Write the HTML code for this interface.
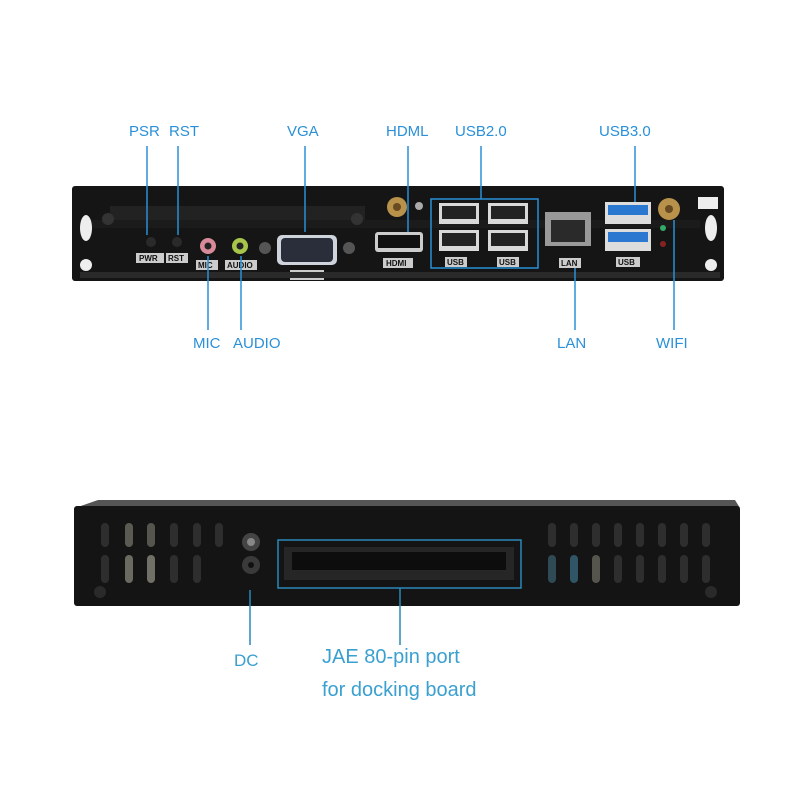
<!DOCTYPE html>
<html><head><meta charset="utf-8"><style>
html,body{margin:0;padding:0;background:#fff;width:800px;height:800px;overflow:hidden}
svg{display:block}
.l{font-family:"Liberation Sans",sans-serif;font-size:15px;fill:#2a90d8}
.b{font-family:"Liberation Sans",sans-serif;font-size:20px;fill:#3aa0d0}
.t{font-family:"Liberation Sans",sans-serif;font-size:8px;font-weight:bold;fill:#ddd}
</style></head><body>
<svg width="800" height="800" viewBox="0 0 800 800">
<!-- top device -->
<rect x="72" y="186" width="652" height="95" rx="3" fill="#151515"/>
<rect x="110" y="206" width="255" height="22" fill="#222"/>
<rect x="80" y="220" width="620" height="8" fill="#1b1b1b"/>
<ellipse cx="86" cy="228" rx="6" ry="13" fill="#eee"/>
<circle cx="86" cy="265" r="6" fill="#eee"/>
<ellipse cx="711" cy="228" rx="6" ry="13" fill="#eee"/>
<circle cx="711" cy="265" r="6" fill="#eee"/>
<rect x="698" y="197" width="20" height="12" fill="#eee"/>
<g fill="#333"><circle cx="108" cy="219" r="6"/><circle cx="357" cy="219" r="6"/></g>
<circle cx="151" cy="242" r="5" fill="#2a2a2a"/><circle cx="177" cy="242" r="5" fill="#2a2a2a"/>
<rect x="136" y="253" width="28" height="10" fill="#ccc"/><text x="139" y="261" class="t" style="fill:#111">PWR</text>
<rect x="166" y="253" width="22" height="10" fill="#ccc"/><text x="168" y="261" class="t" style="fill:#111">RST</text>
<circle cx="208" cy="246" r="8" fill="#d88a9a"/><circle cx="208" cy="246" r="3.5" fill="#222"/>
<circle cx="240" cy="246" r="8" fill="#a6c54a"/><circle cx="240" cy="246" r="3.5" fill="#222"/>
<rect x="196" y="260" width="22" height="10" fill="#ccc"/><text x="198" y="268" class="t" style="fill:#111">MIC</text>
<rect x="225" y="260" width="32" height="10" fill="#ccc"/><text x="227" y="268" class="t" style="fill:#111">AUDIO</text>
<circle cx="265" cy="248" r="6" fill="#555"/><circle cx="349" cy="248" r="6" fill="#555"/>
<rect x="277" y="235" width="60" height="30" rx="5" fill="#cfd3dc"/><rect x="281" y="238" width="52" height="24" rx="4" fill="#2a2e3a"/>
<rect x="290" y="270" width="34" height="10" fill="#ccc"/><text x="297" y="278" class="t" style="fill:#111">VGA</text>
<circle cx="397" cy="207" r="10" fill="#b8914a"/><circle cx="397" cy="207" r="4" fill="#6a4a20"/>
<circle cx="419" cy="206" r="4" fill="#aaa"/>
<rect x="375" y="232" width="48" height="20" rx="3" fill="#ccc"/><rect x="378" y="235" width="42" height="13" fill="#111"/>
<rect x="383" y="258" width="30" height="10" fill="#ccc"/><text x="386" y="266" class="t" style="fill:#111">HDMI</text>
<g fill="#d8d8d8"><rect x="439" y="203" width="40" height="21"/><rect x="488" y="203" width="40" height="21"/><rect x="439" y="230" width="40" height="21"/><rect x="488" y="230" width="40" height="21"/></g>
<g fill="#222"><rect x="442" y="206" width="34" height="13"/><rect x="491" y="206" width="34" height="13"/><rect x="442" y="233" width="34" height="13"/><rect x="491" y="233" width="34" height="13"/></g>
<rect x="445" y="257" width="22" height="10" fill="#ccc"/><text x="447" y="265" class="t" style="fill:#111">USB</text>
<rect x="497" y="257" width="22" height="10" fill="#ccc"/><text x="499" y="265" class="t" style="fill:#111">USB</text>
<rect x="545" y="212" width="46" height="34" fill="#999"/><rect x="551" y="220" width="34" height="22" fill="#2a2a2a"/>
<rect x="559" y="258" width="22" height="10" fill="#ccc"/><text x="561" y="266" class="t" style="fill:#111">LAN</text>
<rect x="605" y="202" width="46" height="22" fill="#ddd"/><rect x="608" y="205" width="40" height="10" fill="#2a78d0"/>
<rect x="605" y="229" width="46" height="22" fill="#ddd"/><rect x="608" y="232" width="40" height="10" fill="#2a78d0"/>
<rect x="616" y="257" width="24" height="10" fill="#ccc"/><text x="618" y="265" class="t" style="fill:#111">USB</text>
<circle cx="669" cy="209" r="11" fill="#b8914a"/><circle cx="669" cy="209" r="4" fill="#6a4a20"/>
<circle cx="663" cy="228" r="3" fill="#3a6"/><circle cx="663" cy="244" r="3" fill="#822"/>
<g fill="#2a2a2a"><rect x="80" y="272" width="640" height="6"/></g>
<!-- top lines -->
<g stroke="#2a90d8" stroke-width="1.5" fill="none">
<line x1="147" y1="146" x2="147" y2="235"/><line x1="178" y1="146" x2="178" y2="235"/>
<line x1="305" y1="146" x2="305" y2="232"/><line x1="408" y1="146" x2="408" y2="232"/>
<line x1="481" y1="146" x2="481" y2="199"/><rect x="431" y="199" width="107" height="69"/>
<line x1="635" y1="146" x2="635" y2="202"/>
<line x1="208" y1="256" x2="208" y2="330"/><line x1="241" y1="256" x2="241" y2="330"/>
<line x1="575" y1="268" x2="575" y2="330"/><line x1="674" y1="220" x2="674" y2="330"/>
</g>
<text x="129" y="136" class="l">PSR</text><text x="169" y="136" class="l">RST</text>
<text x="287" y="136" class="l">VGA</text><text x="386" y="136" class="l">HDML</text>
<text x="455" y="136" class="l">USB2.0</text><text x="599" y="136" class="l">USB3.0</text>
<text x="193" y="348" class="l">MIC</text><text x="233" y="348" class="l">AUDIO</text>
<text x="557" y="348" class="l">LAN</text><text x="656" y="348" class="l">WIFI</text>
<!-- bottom device -->
<polygon points="98,500 735,500 740,508 75,508" fill="#555"/>
<rect x="74" y="506" width="666" height="100" rx="3" fill="#141414"/>
<g fill="#2e2e2e">
<rect x="101" y="523" width="8" height="24" rx="4"/><rect x="101" y="555" width="8" height="28" rx="4"/>
<rect x="125" y="523" width="8" height="24" rx="4" fill="#5a5a52"/><rect x="125" y="555" width="8" height="28" rx="4" fill="#6a6a60"/>
<rect x="147" y="523" width="8" height="24" rx="4" fill="#55554e"/><rect x="147" y="555" width="8" height="28" rx="4" fill="#707066"/>
<rect x="170" y="523" width="8" height="24" rx="4"/><rect x="170" y="555" width="8" height="28" rx="4"/>
<rect x="193" y="523" width="8" height="24" rx="4"/><rect x="193" y="555" width="8" height="28" rx="4"/>
<rect x="215" y="523" width="8" height="24" rx="4"/>
<rect x="548" y="523" width="8" height="24" rx="4"/><rect x="548" y="555" width="8" height="28" rx="4" fill="#2f4a55"/>
<rect x="570" y="523" width="8" height="24" rx="4"/><rect x="570" y="555" width="8" height="28" rx="4" fill="#2f5566"/>
<rect x="592" y="523" width="8" height="24" rx="4"/><rect x="592" y="555" width="8" height="28" rx="4" fill="#55554e"/>
<rect x="614" y="523" width="8" height="24" rx="4"/><rect x="614" y="555" width="8" height="28" rx="4"/>
<rect x="636" y="523" width="8" height="24" rx="4"/><rect x="636" y="555" width="8" height="28" rx="4"/>
<rect x="658" y="523" width="8" height="24" rx="4"/><rect x="658" y="555" width="8" height="28" rx="4"/>
<rect x="680" y="523" width="8" height="24" rx="4"/><rect x="680" y="555" width="8" height="28" rx="4"/>
<rect x="702" y="523" width="8" height="24" rx="4"/><rect x="702" y="555" width="8" height="28" rx="4"/>
</g>
<circle cx="251" cy="542" r="9" fill="#444"/><circle cx="251" cy="542" r="4" fill="#888"/>
<circle cx="251" cy="565" r="9" fill="#3a3a3a"/><circle cx="251" cy="565" r="3" fill="#111"/>
<circle cx="100" cy="592" r="6" fill="#2a2a2a"/><circle cx="711" cy="592" r="6" fill="#2a2a2a"/>
<rect x="284" y="547" width="230" height="33" fill="#262626"/><rect x="292" y="552" width="214" height="18" fill="#0d0d0d"/>
<g stroke="#2a88b8" stroke-width="1.5" fill="none">
<rect x="278" y="540" width="243" height="48"/>
<line x1="250" y1="590" x2="250" y2="645"/><line x1="400" y1="588" x2="400" y2="645"/>
</g>
<text x="234" y="666" class="l" style="font-size:17px;fill:#3a9fd0">DC</text>
<text x="322" y="663" class="b">JAE 80-pin port</text>
<text x="322" y="696" class="b">for docking board</text>
</svg>
</body></html>
